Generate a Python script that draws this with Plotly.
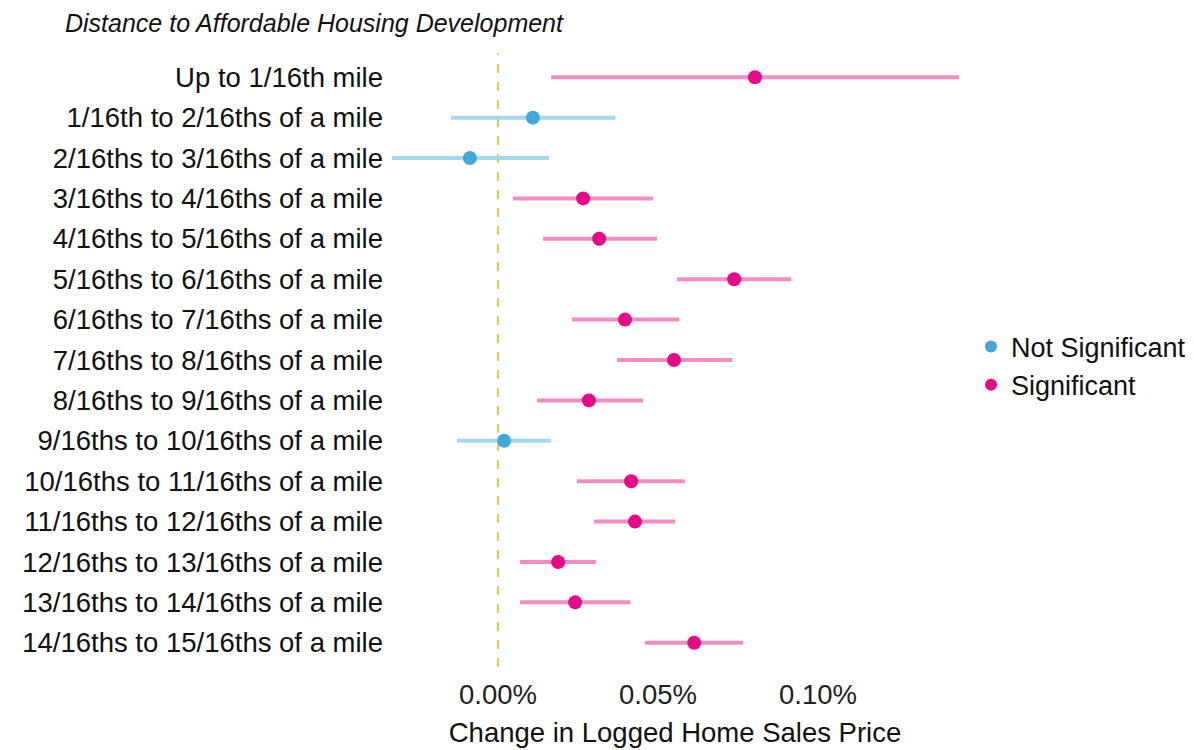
import plotly.graph_objects as go

# Distance bands (top to bottom)
bands = [
    "Up to 1/16th mile",
    "1/16th to 2/16ths of a mile",
    "2/16ths to 3/16ths of a mile",
    "3/16ths to 4/16ths of a mile",
    "4/16ths to 5/16ths of a mile",
    "5/16ths to 6/16ths of a mile",
    "6/16ths to 7/16ths of a mile",
    "7/16ths to 8/16ths of a mile",
    "8/16ths to 9/16ths of a mile",
    "9/16ths to 10/16ths of a mile",
    "10/16ths to 11/16ths of a mile",
    "11/16ths to 12/16ths of a mile",
    "12/16ths to 13/16ths of a mile",
    "13/16ths to 14/16ths of a mile",
    "14/16ths to 15/16ths of a mile",
]

# Point estimates and confidence bounds, in percent
estimate = [0.0803, 0.0109, -0.0088, 0.0266, 0.0316, 0.0738, 0.0397, 0.0550,
            0.0284, 0.0019, 0.0416, 0.0428, 0.0188, 0.0241, 0.0613]
ci_low = [0.0166, -0.0147, -0.0331, 0.0047, 0.0141, 0.0559, 0.0231, 0.0372,
          0.0122, -0.0128, 0.0247, 0.0300, 0.0069, 0.0069, 0.0459]
ci_high = [0.1441, 0.0366, 0.0159, 0.0484, 0.0497, 0.0916, 0.0566, 0.0731,
           0.0453, 0.0166, 0.0584, 0.0553, 0.0306, 0.0413, 0.0766]

significant = [lo > 0 or hi < 0 for lo, hi in zip(ci_low, ci_high)]

groups = [
    ("Not Significant", False, "#41a8de", "#a3d8ef"),
    ("Significant", True, "#e8088a", "#f48cc0"),
]

fig = go.Figure()

for name, flag, dot_color, bar_color in groups:
    idx = [i for i, s in enumerate(significant) if s == flag]
    fig.add_trace(go.Scatter(
        x=[estimate[i] for i in idx],
        y=[bands[i] for i in idx],
        mode="markers",
        name=name,
        marker=dict(color=dot_color, size=14),
        error_x=dict(
            type="data",
            symmetric=False,
            array=[ci_high[i] - estimate[i] for i in idx],
            arrayminus=[estimate[i] - ci_low[i] for i in idx],
            color=bar_color,
            thickness=4,
            width=0,
        ),
        cliponaxis=False,
    ))

# Reference line at zero
fig.add_shape(
    type="line", xref="x", yref="paper", x0=0, x1=0, y0=0, y1=1,
    line=dict(color="#f0c12c", width=1.8, dash="dash"), layer="below",
)

n = len(bands)
fig.update_layout(
    width=1194,
    height=750,
    paper_bgcolor="white",
    plot_bgcolor="white",
    margin=dict(l=388, r=1194 - 962, t=53, b=83, autoexpand=False),
    font=dict(family="Liberation Sans, Arial, sans-serif", size=27.5, color="#111111"),
    title=dict(
        text="<i>Distance to Affordable Housing Development</i>",
        font=dict(size=25, color="#111111"),
        x=65 / 1194, xanchor="left", xref="container",
        y=1 - 23 / 750, yanchor="middle", yref="container",
    ),
    xaxis=dict(
        range=[-0.034375, 0.145],
        tickvals=[0, 0.05, 0.1],
        ticktext=["0.00%", "0.05%", "0.10%"],
        showgrid=False, zeroline=False, showline=False,
        ticks="", ticklabelstandoff=8,
        tickfont=dict(size=27.5, color="#222222"),
        title=dict(text="Change in Logged Home Sales Price",
                   font=dict(size=27.5, color="#111111"), standoff=14),
    ),
    yaxis=dict(
        type="category",
        categoryorder="array",
        categoryarray=bands,
        range=[n - 1 + 0.6, -0.6],
        showgrid=False, zeroline=False, showline=False,
        ticks="", ticklabelstandoff=4,
        tickfont=dict(size=27.5, color="#111111"),
    ),
    legend=dict(
        xref="container", x=971 / 1194, xanchor="left",
        yref="container", y=1 - 366 / 750, yanchor="middle",
        font=dict(size=27, color="#111111"),
        itemsizing="constant",
        bgcolor="rgba(0,0,0,0)",
        tracegroupgap=0,
    ),
)

fig.write_html("out.html")
